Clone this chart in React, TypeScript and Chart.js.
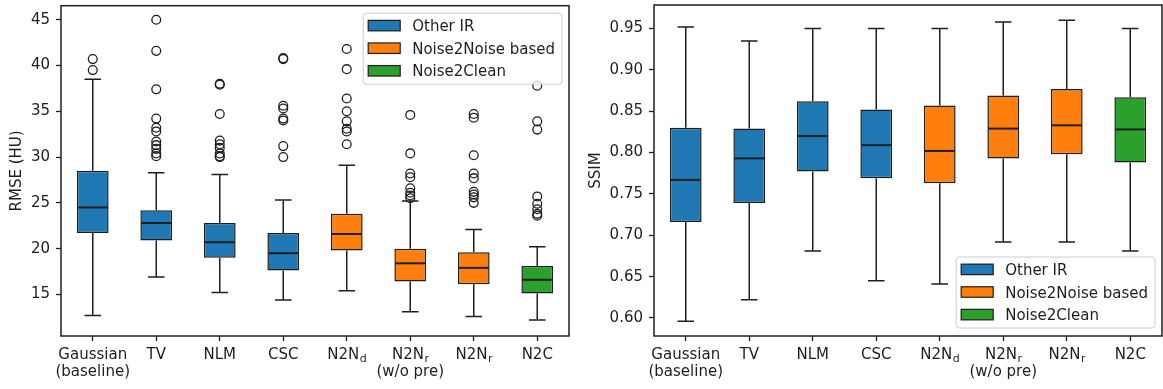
import { useEffect, useRef } from 'react';
import { Chart, registerables } from 'chart.js';

Chart.register(...registerables);

// ---------------- data ----------------
const categories = ['Gaussian\n(baseline)', 'TV', 'NLM', 'CSC', 'N2N_d', 'N2N_r\n(w/o pre)', 'N2N_r', 'N2C'];
const categoryGroup = [0, 0, 0, 0, 1, 1, 1, 2];
const groupNames = ['Other IR', 'Noise2Noise based', 'Noise2Clean'];
const groupColors = ['#1f77b4', '#ff7f0e', '#2ca02c'];

// RMSE (HU)
const rmseLow = [12.7, 16.9, 15.2, 14.4, 15.4, 13.1, 12.6, 12.2];
const rmseQ1 = [21.7, 20.9, 19.0, 17.6, 19.8, 16.4, 16.1, 15.1];
const rmseMed = [24.5, 22.8, 20.7, 19.5, 21.6, 18.4, 17.9, 16.6];
const rmseQ3 = [28.5, 24.2, 22.8, 21.7, 23.8, 20.0, 19.6, 18.1];
const rmseHigh = [38.5, 28.3, 28.1, 25.3, 29.1, 25.2, 22.1, 20.2];
const rmseOutGaussian = [40.7, 39.5];
const rmseOutTV = [45.0, 41.6, 37.4, 34.2, 33.2, 32.8, 31.7, 31.3, 30.9, 30.4, 30.1];
const rmseOutNLM = [38.0, 37.9, 34.7, 31.8, 31.4, 31.0, 30.4, 30.1, 30.0];
const rmseOutCSC = [40.8, 40.7, 35.6, 35.3, 34.2, 34.0, 31.2, 30.0];
const rmseOutN2Nd = [41.8, 39.6, 36.4, 35.0, 33.9, 33.1, 32.8, 31.4];
const rmseOutN2NrWo = [34.6, 30.4, 28.2, 27.8, 26.6, 26.1, 25.8, 25.5];
const rmseOutN2Nr = [34.7, 34.3, 30.2, 28.2, 27.7, 26.2, 25.9, 25.6, 25.0];
const rmseOutN2C = [37.8, 33.9, 33.0, 25.7, 24.9, 24.3, 23.8, 23.6];
const rmseOutliers = [rmseOutGaussian, rmseOutTV, rmseOutNLM, rmseOutCSC, rmseOutN2Nd, rmseOutN2NrWo, rmseOutN2Nr, rmseOutN2C];
const rmseTicks = [15, 20, 25, 30, 35, 40, 45];
const rmseTickLabels = ['15', '20', '25', '30', '35', '40', '45'];
const rmseRange = [10.46, 46.53];

// SSIM
const ssimLow = [0.596, 0.622, 0.681, 0.645, 0.641, 0.692, 0.692, 0.681];
const ssimQ1 = [0.716, 0.739, 0.777, 0.769, 0.763, 0.793, 0.798, 0.788];
const ssimMed = [0.767, 0.793, 0.820, 0.809, 0.802, 0.829, 0.833, 0.828];
const ssimQ3 = [0.830, 0.829, 0.862, 0.852, 0.857, 0.869, 0.877, 0.867];
const ssimHigh = [0.952, 0.935, 0.950, 0.950, 0.950, 0.958, 0.960, 0.950];
const ssimOutliers: number[][] = [[], [], [], [], [], [], [], []];
const ssimTicks = [0.6, 0.65, 0.7, 0.75, 0.8, 0.85, 0.9, 0.95];
const ssimTickLabels = ['0.60', '0.65', '0.70', '0.75', '0.80', '0.85', '0.90', '0.95'];
const ssimRange = [0.5782, 0.9785];

// ---------------- style ----------------
const FONT = "'DejaVu Sans', sans-serif";
const INK = '#1e1e1e';

Chart.defaults.font.family = FONT;
Chart.defaults.font.size = 15;
Chart.defaults.color = INK;

type Spec = {
  low: number[]; q1: number[]; med: number[]; q3: number[]; high: number[];
  outliers: number[][];
  range: number[]; ticks: number[]; tickLabels: string[];
  title: string;
  legendPos: 'top' | 'bottom';
  canvasW: number; padLeft: number; yAxisWidth: number; padRight: number;
};

function drawLabelLine(ctx: CanvasRenderingContext2D, text: string, cx: number, baseline: number) {
  const [main, sub] = text.split('_');
  ctx.font = `15px ${FONT}`;
  const wm = ctx.measureText(main).width;
  let ws = 0;
  if (sub) {
    ctx.font = `11px ${FONT}`;
    ws = ctx.measureText(sub).width;
  }
  const x0 = cx - (wm + ws) / 2;
  ctx.textAlign = 'left';
  ctx.textBaseline = 'alphabetic';
  ctx.font = `15px ${FONT}`;
  ctx.fillText(main, x0, baseline);
  if (sub) {
    ctx.font = `11px ${FONT}`;
    ctx.fillText(sub, x0 + wm + 0.5, baseline + 2.5);
  }
}

function makePlugin(spec: Spec) {
  return {
    id: 'boxExtras',
    beforeDatasetsDraw(chart: any) {
      const { ctx } = chart;
      const x = chart.scales.x;
      const y = chart.scales.y;
      const cat = x.getPixelForValue(1) - x.getPixelForValue(0);
      const cap = cat * 0.13;
      ctx.save();
      ctx.strokeStyle = INK;
      ctx.lineWidth = 1.5;
      spec.low.forEach((lo, i) => {
        const cx = x.getPixelForValue(i);
        const yHi = y.getPixelForValue(spec.high[i]);
        const yLo = y.getPixelForValue(lo);
        ctx.beginPath();
        ctx.moveTo(cx, y.getPixelForValue(spec.q3[i]));
        ctx.lineTo(cx, yHi);
        ctx.moveTo(cx, y.getPixelForValue(spec.q1[i]));
        ctx.lineTo(cx, yLo);
        ctx.moveTo(cx - cap, yHi);
        ctx.lineTo(cx + cap, yHi);
        ctx.moveTo(cx - cap, yLo);
        ctx.lineTo(cx + cap, yLo);
        ctx.stroke();
      });
      ctx.restore();
    },
    afterDatasetsDraw(chart: any) {
      const { ctx } = chart;
      const x = chart.scales.x;
      const y = chart.scales.y;
      const cat = x.getPixelForValue(1) - x.getPixelForValue(0);
      const bw = cat * 0.5;
      ctx.save();
      ctx.strokeStyle = INK;
      ctx.lineWidth = 2;
      spec.med.forEach((m, i) => {
        const cx = x.getPixelForValue(i);
        const ym = y.getPixelForValue(m);
        ctx.beginPath();
        ctx.moveTo(cx - bw / 2 + 1, ym);
        ctx.lineTo(cx + bw / 2 - 1, ym);
        ctx.stroke();
      });
      ctx.restore();
    },
    afterDraw(chart: any) {
      const { ctx, chartArea: ca } = chart;
      const x = chart.scales.x;
      ctx.save();
      // spines
      ctx.strokeStyle = INK;
      ctx.lineWidth = 1.5;
      ctx.strokeRect(ca.left, ca.top, ca.right - ca.left, ca.bottom - ca.top);
      // x tick labels
      ctx.fillStyle = INK;
      categories.forEach((c, i) => {
        const cx = x.getPixelForValue(i);
        const lines = c.split('\n');
        lines.forEach((ln, k) => drawLabelLine(ctx, ln, cx, 359 + k * 17));
      });
      // legend
      ctx.font = `15px ${FONT}`;
      const tw = Math.max(...groupNames.map((n) => ctx.measureText(n).width));
      const w = 49 + tw + 7;
      const h = 71;
      const right = ca.right - 7;
      const left = right - w;
      const top = spec.legendPos === 'top' ? ca.top + 7.5 : ca.bottom - 8 - h;
      ctx.beginPath();
      ctx.roundRect(left, top, w, h, 3);
      ctx.fillStyle = 'rgba(255,255,255,0.8)';
      ctx.fill();
      ctx.strokeStyle = '#cccccc';
      ctx.lineWidth = 1;
      ctx.stroke();
      groupNames.forEach((name, k) => {
        const cy = top + 12.4 + 22.6 * k;
        ctx.fillStyle = groupColors[k];
        ctx.fillRect(left + 5, cy - 5.25, 32, 10.5);
        ctx.strokeStyle = INK;
        ctx.lineWidth = 1.2;
        ctx.strokeRect(left + 5, cy - 5.25, 32, 10.5);
        ctx.fillStyle = INK;
        ctx.textAlign = 'left';
        ctx.textBaseline = 'alphabetic';
        ctx.font = `15px ${FONT}`;
        ctx.fillText(name, left + 49, cy + 5.5);
      });
      ctx.restore();
    },
  };
}

function BoxChart({ spec, left }: { spec: Spec; left: number }) {
  const ref = useRef<HTMLCanvasElement>(null);
  useEffect(() => {
    const canvas = ref.current;
    if (!canvas) return;
    const outlierPoints: { x: string; y: number }[] = [];
    spec.outliers.forEach((arr, i) => arr.forEach((v) => outlierPoints.push({ x: categories[i], y: v })));
    const chart = new Chart(canvas, {
      type: 'bar',
      data: {
        labels: categories,
        datasets: [
          {
            type: 'scatter',
            data: outlierPoints,
            pointRadius: 4.4,
            pointBorderWidth: 1.3,
            pointBackgroundColor: 'rgba(0,0,0,0)',
            pointBorderColor: INK,
            order: 0,
          } as any,
          {
            type: 'bar',
            data: spec.q1.map((v, i) => [v, spec.q3[i]]),
            backgroundColor: categoryGroup.map((g) => groupColors[g]),
            borderColor: INK,
            borderWidth: 1.5,
            borderSkipped: false,
            barPercentage: 0.5,
            categoryPercentage: 1,
            order: 1,
          } as any,
        ],
      },
      options: {
        responsive: false,
        animation: false,
        devicePixelRatio: 1,
        events: [],
        layout: { padding: { top: 5, left: spec.padLeft, right: spec.padRight, bottom: 0 } },
        plugins: { legend: { display: false }, tooltip: { enabled: false } },
        scales: {
          x: {
            type: 'category',
            offset: true,
            grid: {
              display: true,
              drawOnChartArea: false,
              drawTicks: true,
              tickLength: 5,
              tickColor: INK,
              tickWidth: 1.3,
              offset: false,
            },
            border: { display: false },
            ticks: { display: false },
            afterFit: (s: any) => {
              s.height = 53;
              s.paddingLeft = 0;
              s.paddingRight = 0;
            },
          },
          y: {
            type: 'linear',
            min: spec.range[0],
            max: spec.range[1],
            grid: {
              display: true,
              drawOnChartArea: false,
              drawTicks: true,
              tickLength: 5,
              tickColor: INK,
              tickWidth: 1.3,
            },
            border: { display: false },
            ticks: {
              padding: 6,
              color: INK,
              font: { family: FONT, size: 15 },
              callback: (_v: any, idx: number) => spec.tickLabels[idx],
            },
            afterBuildTicks: (s: any) => {
              s.ticks = spec.ticks.map((v) => ({ value: v }));
            },
            afterFit: (s: any) => {
              s.width = spec.yAxisWidth;
              s.paddingTop = 0;
              s.paddingBottom = 0;
            },
            title: {
              display: true,
              text: spec.title,
              color: INK,
              font: { family: FONT, size: 15 },
              padding: { top: 4, bottom: 4 },
            },
          },
        },
      } as any,
      plugins: [makePlugin(spec) as any],
    });
    return () => chart.destroy();
  }, []);
  return (
    <canvas
      ref={ref}
      width={spec.canvasW}
      height={389}
      style={{ position: 'absolute', left, top: 0, width: spec.canvasW, height: 389 }}
    />
  );
}

const rmseSpec: Spec = {
  low: rmseLow, q1: rmseQ1, med: rmseMed, q3: rmseQ3, high: rmseHigh,
  outliers: rmseOutliers, range: rmseRange, ticks: rmseTicks, tickLabels: rmseTickLabels,
  title: 'RMSE (HU)', legendPos: 'top',
  canvasW: 580, padLeft: 4.5, yAxisWidth: 56.5, padRight: 11,
};

const ssimSpec: Spec = {
  low: ssimLow, q1: ssimQ1, med: ssimMed, q3: ssimQ3, high: ssimHigh,
  outliers: ssimOutliers, range: ssimRange, ticks: ssimTicks, tickLabels: ssimTickLabels,
  title: 'SSIM', legendPos: 'bottom',
  canvasW: 583, padLeft: 3.5, yAxisWidth: 70.5, padRight: 1,
};

export default function App() {
  return (
    <div style={{ position: 'fixed', left: 0, top: 0, width: 1163, height: 389, background: '#fff', overflow: 'hidden' }}>
      <BoxChart spec={rmseSpec} left={0} />
      <BoxChart spec={ssimSpec} left={580} />
    </div>
  );
}
